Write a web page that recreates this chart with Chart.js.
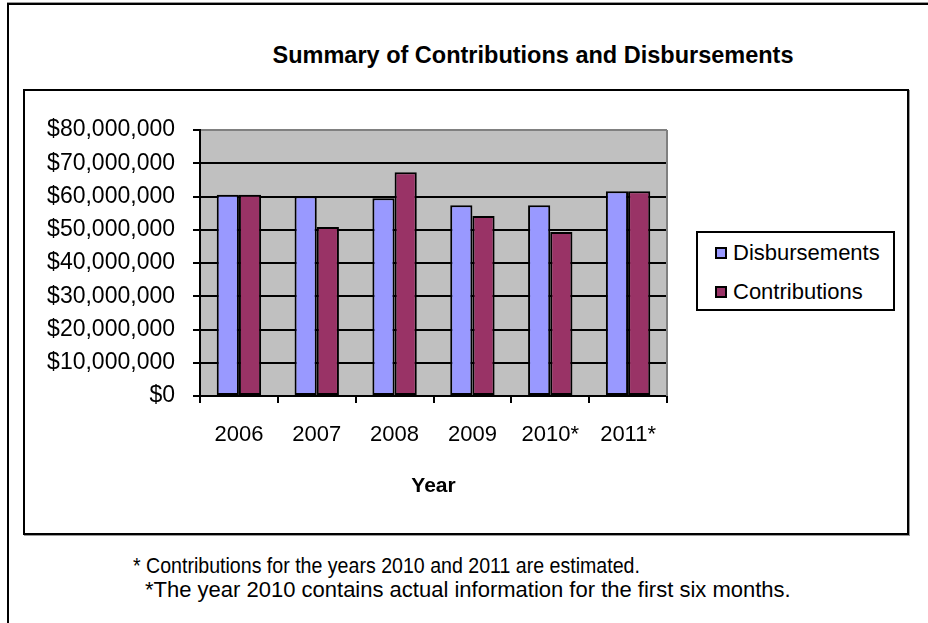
<!DOCTYPE html>
<html lang="en">
<head>
<meta charset="UTF-8">
<meta name="viewport" content="width=device-width, initial-scale=1.0">
<title>Summary of Contributions and Disbursements</title>
<style>
  body { margin: 0; font-family: "Liberation Sans", Arial, sans-serif; background: #fff; color: #000; }
  #page { position: relative; width: 928px; height: 623px; overflow: hidden; }
  #outer { position: absolute; left: 7px; top: 3px; width: 1000px; height: 700px; border-left: 2px solid #000; border-top: 2px solid #000; box-shadow: 0 -1px 0 #999; }
  #inner { position: absolute; left: 23px; top: 89px; width: 882px; height: 442px; border: 2px solid #000; box-shadow: 1px 1px 0 #999; }
  #title { position: absolute; left: 0; width: 1066px; top: 42px; text-align: center; font-weight: bold; font-size: 23.5px; }
  #chartBox { position: absolute; left: 0; top: 0; width: 928px; height: 540px; }
  #legend { position: absolute; left: 696px; top: 231px; width: 195px; height: 76px; border: 2px solid #000; background: #fff; font-size: 22px; }
  .item { position: absolute; left: 17px; height: 26px; display: flex; align-items: center; white-space: nowrap; }
  .swatch { width: 8px; height: 8px; border: 2px solid #000; margin-right: 6px; }
  .note { position: absolute; font-size: 22px; white-space: nowrap; transform-origin: left center; }
</style>
</head>
<body>
<div id="page">
  <div id="outer"></div>
  <div id="inner"></div>
  <div id="title">Summary of Contributions and Disbursements</div>
  <div id="chartBox"><canvas id="chart"></canvas></div>
  <div id="legend"></div>
  <div class="note" style="left:133px; top:553px; transform:scaleX(0.89);">* Contributions for the years 2010 and 2011 are estimated.</div>
  <div class="note" style="left:145px; top:577px;">*The year 2010 contains actual information for the first six months.</div>
</div>

<script src="https://cdn.jsdelivr.net/npm/chart.js"></script>
<script>
  const years = ['2006', '2007', '2008', '2009', '2010*', '2011*'];
  const disbursements = [60500000, 60100000, 59500000, 57400000, 57400000, 61600000];
  const contributions = [60500000, 50800000, 67300000, 54100000, 49300000, 61600000];
  const seriesNames = ['Disbursements', 'Contributions'];
  const yMax = 80000000;
  const yStep = 10000000;

  const colors = ['#9999FF', '#993366'];

  // legend box (html, so it can have a frame like the excel one)
  const legend = document.getElementById('legend');
  seriesNames.forEach((name, i) => {
    const row = document.createElement('div');
    row.className = 'item';
    row.style.top = (7 + i * 39) + 'px';
    row.innerHTML = '<span class="swatch" style="background:' + colors[i] + '"></span>' + name;
    legend.appendChild(row);
  });

  const plotFrame = {
    id: 'plotFrame',
    beforeDraw(chart) {
      const { ctx, chartArea: a } = chart;
      ctx.save();
      ctx.fillStyle = '#C0C0C0';
      ctx.fillRect(a.left, a.top, a.right - a.left, a.bottom - a.top);
      ctx.restore();
    },
    afterDraw(chart) {
      const { ctx, chartArea: a } = chart;
      ctx.save();
      ctx.strokeStyle = '#808080';
      ctx.lineWidth = 2;
      ctx.beginPath();
      ctx.moveTo(a.right, a.top);
      ctx.lineTo(a.right, a.bottom);
      ctx.stroke();
      ctx.restore();
    }
  };

  Chart.defaults.font.family = '"Liberation Sans", Arial, sans-serif';
  Chart.defaults.color = '#000';

  new Chart(document.getElementById('chart'), {
    type: 'bar',
    data: {
      labels: years,
      datasets: [
        { label: seriesNames[0], data: disbursements, backgroundColor: colors[0] },
        { label: seriesNames[1], data: contributions, backgroundColor: colors[1] }
      ].map(ds => Object.assign(ds, {
        borderColor: '#000', borderWidth: 2, borderSkipped: false,
        barPercentage: 1, categoryPercentage: 0.57
      }))
    },
    options: {
      responsive: true,
      maintainAspectRatio: false,
      animation: false,
      layout: { padding: { top: 130, left: 0, right: 261, bottom: 41 } },
      plugins: {
        legend: { display: false },
        title: { display: false },
        tooltip: { enabled: false }
      },
      scales: {
        x: {
          grid: { offset: true, drawOnChartArea: false, tickLength: 7, color: '#000', lineWidth: 2 },
          border: { color: '#000', width: 2 },
          ticks: { font: { size: 22 }, padding: 19, maxRotation: 0 },
          title: { display: true, text: 'Year', font: { size: 21, weight: 'bold' }, padding: 0 },
          afterFit(s) { s.height = 103; }
        },
        y: {
          min: 0,
          max: yMax,
          ticks: {
            stepSize: yStep,
            font: { size: 23 },
            padding: 18,
            callback: v => '$' + v.toLocaleString('en-US')
          },
          grid: {
            color: c => (c.tick && c.tick.value === yMax) ? '#808080' : '#000',
            tickColor: '#000',
            lineWidth: 2,
            tickLength: 7
          },
          border: { color: '#000', width: 2 },
          afterFit(s) { s.width = 200; }
        }
      }
    },
    plugins: [plotFrame]
  });
</script>
</body>
</html>
